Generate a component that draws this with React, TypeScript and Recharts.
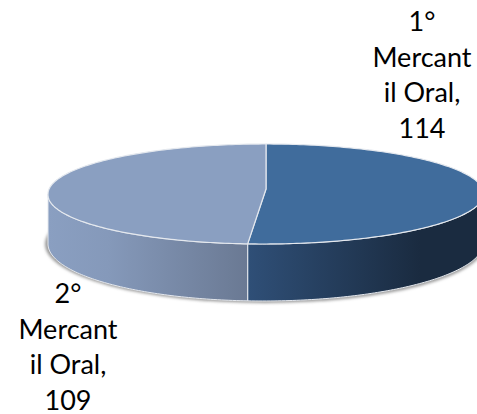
import { PieChart, Pie } from 'recharts';

const categories = ['1° Mercantil Oral', '2° Mercantil Oral'];
const values = [114, 109];
const topColors = ['#406c9c', '#8a9fc1'];
const wallGradients = ['wall1', 'wall2'];

const data = categories.map((name, i) => ({ name, value: values[i] }));

// flattened look of the old office 3D pie
const CX = 266;
const CY = 194;
const RX = 218;
const RY = 50;
const APEX_Y = 189;
const BOTTOM_CY = 243;
const BOTTOM_RY = 58;
const FRONT_SHIFT = 3;
const LABEL_AT = [
  { x: 422, y: 31 },
  { x: 68, y: 303 },
];
const LINE_H = 35.6;

const rad = (deg: number) => (deg * Math.PI) / 180;

// perspective pushes the front of the rim a little to the left
const rimX = (a: number) => {
  const s = Math.sin(rad(a));
  return CX + RX * Math.cos(rad(a)) + (s < 0 ? FRONT_SHIFT * s : 0);
};
const topY = (a: number) => CY - RY * Math.sin(rad(a));
const botY = (a: number) => BOTTOM_CY - BOTTOM_RY * Math.sin(rad(a));

// walk the rim from one angle to another, an svg arc would move the ellipse centre
const rim = (from: number, to: number, y: (a: number) => number) => {
  const n = Math.max(1, Math.ceil(Math.abs(to - from)));
  const pts: string[] = [];
  for (let i = 0; i <= n; i++) {
    const a = from + ((to - from) * i) / n;
    pts.push(`${rimX(a)},${y(a)}`);
  }
  return pts.join(' L');
};

const Slice3D = (props: any) => {
  const { startAngle, endAngle, index } = props;

  // recharts goes clockwise so angles decrease; only the front half has a wall
  const wallStart = Math.min(startAngle, 0);
  const wallEnd = Math.max(endAngle, -180);

  const wall = `M${rim(wallStart, wallEnd, topY)} L${rim(wallEnd, wallStart, botY)} Z`;
  const face = `M${CX},${APEX_Y} L${rim(startAngle, endAngle, topY)} Z`;

  return (
    <g>
      <path d={wall} fill={`url(#${wallGradients[index]})`} stroke="#e4e8ee" strokeWidth={1} strokeLinejoin="round" />
      <path d={face} fill={topColors[index]} stroke="#e4e8ee" strokeWidth={1.2} strokeLinejoin="round" />
    </g>
  );
};

const renderLabel = (props: any) => {
  const { index, name, value } = props;
  const at = LABEL_AT[index];
  // excel wraps the name in the narrow label box, mid word
  const lines = [name.slice(0, 2), name.slice(3, 10), `${name.slice(10)},`, String(value)];
  return (
    <text x={at.x} y={at.y} textAnchor="middle" fontFamily="Lato, sans-serif" fontSize={27} fill="#000">
      {lines.map((l, i) => (
        <tspan key={i} x={at.x} y={at.y + i * LINE_H}>
          {l}
        </tspan>
      ))}
    </text>
  );
};

export default function App() {
  return (
    <div style={{ position: 'absolute', left: 0, top: 0, width: 477, height: 414, overflow: 'hidden', background: '#fff' }}>
      <PieChart width={477} height={414} margin={{ top: 0, right: 0, bottom: 0, left: 0 }}>
        <defs>
          <linearGradient id="wall1" gradientUnits="userSpaceOnUse" x1={248} y1={0} x2={420} y2={0}>
            <stop offset="0" stopColor="#2f4f77" />
            <stop offset="1" stopColor="#1a2b40" />
          </linearGradient>
          <linearGradient id="wall2" gradientUnits="userSpaceOnUse" x1={48} y1={0} x2={248} y2={0}>
            <stop offset="0" stopColor="#8a9fc1" />
            <stop offset="0.3" stopColor="#8599ba" />
            <stop offset="1" stopColor="#6a7993" />
          </linearGradient>
          <filter id="soft" x="-5%" y="-20%" width="110%" height="140%">
            <feGaussianBlur stdDeviation="1.5" />
          </filter>
        </defs>
        <ellipse cx={CX - 1} cy={BOTTOM_CY + 1} rx={RX + 2} ry={BOTTOM_RY + 1} fill="#9a9a9a" filter="url(#soft)" />
        <Pie
          data={data}
          dataKey="value"
          nameKey="name"
          cx={CX}
          cy={CY}
          outerRadius={RX}
          startAngle={90}
          endAngle={-270}
          paddingAngle={0}
          stroke="none"
          isAnimationActive={false}
          shape={Slice3D}
          label={renderLabel}
          labelLine={false}
        />
      </PieChart>
    </div>
  );
}
